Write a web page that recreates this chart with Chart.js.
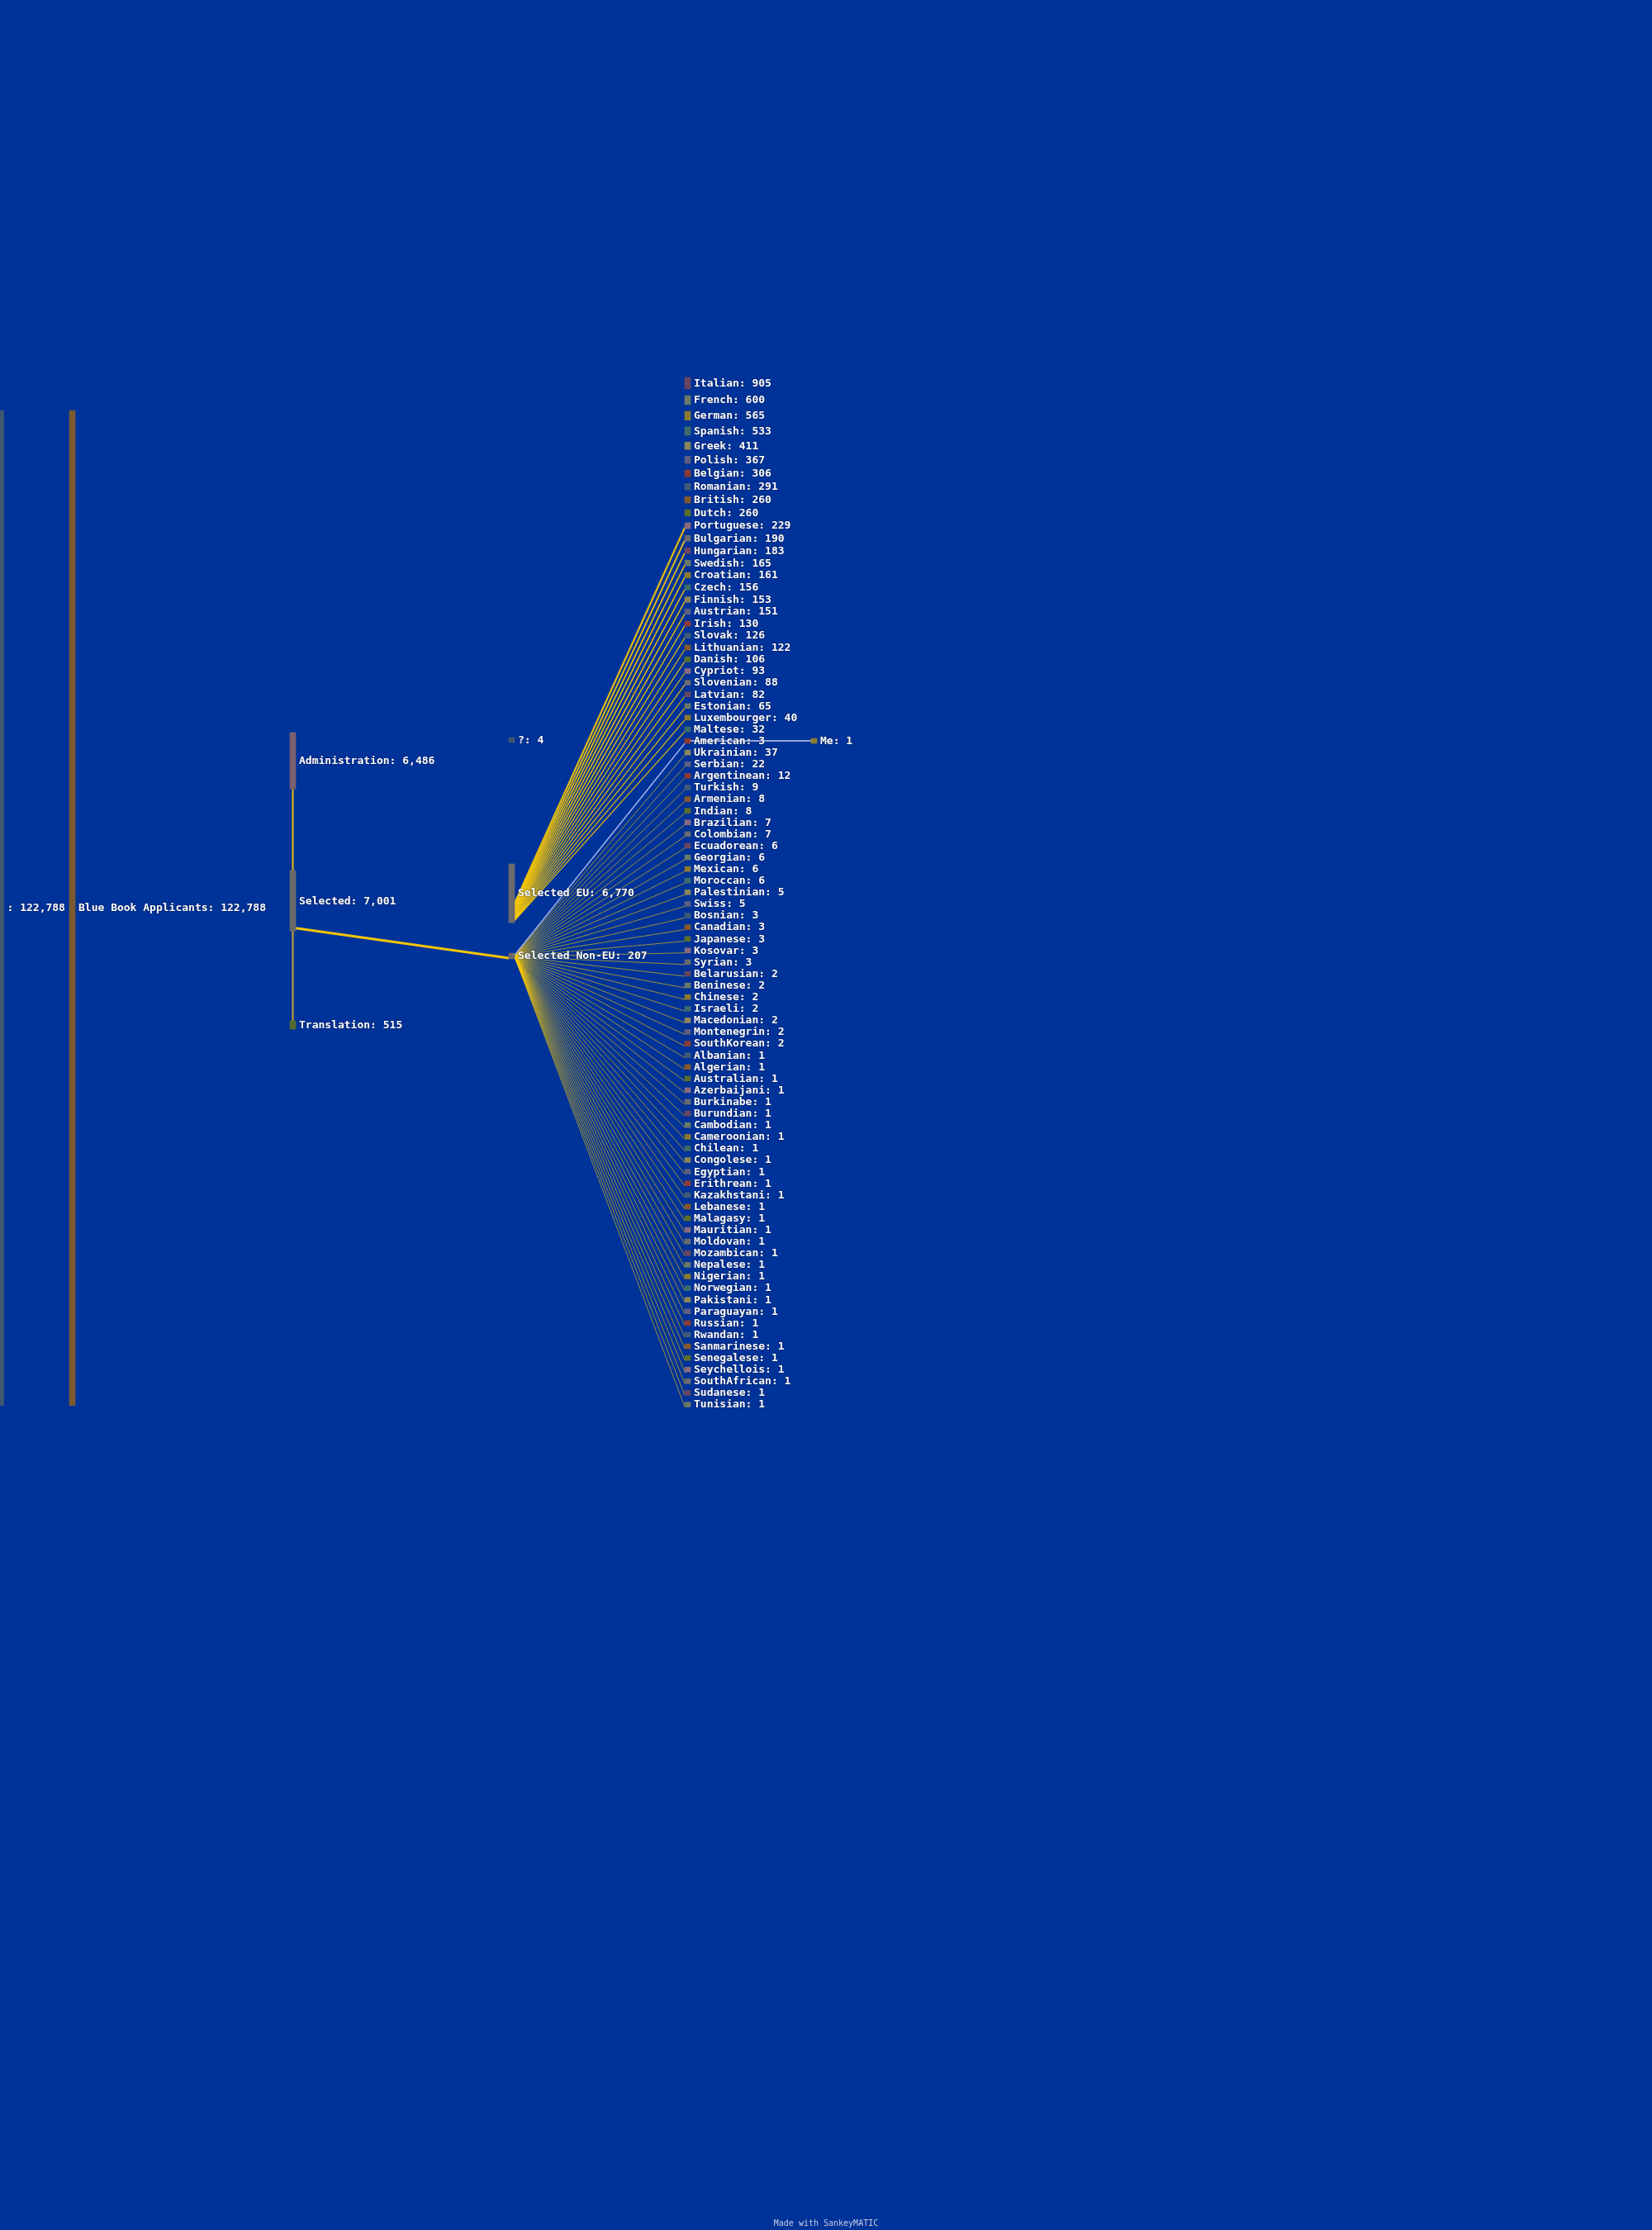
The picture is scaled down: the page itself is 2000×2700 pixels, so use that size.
<!DOCTYPE html>
<html>
<head>
<meta charset="utf-8">
<script src="https://cdn.jsdelivr.net/npm/chart.js@4.4.1/dist/chart.umd.min.js"></script>
<style>
html,body{margin:0;padding:0;background:#003399;}
canvas{display:block;}
</style>
</head>
<body>
<canvas id="c" width="2000" height="2700"></canvas>
<script>
// ---------------- DATA ----------------
const stageNames  = ["", "Blue Book Applicants", "Administration", "Selected", "Translation", "?", "Selected EU", "Selected Non-EU", "Me"];
const stageValues = [122788, 122788, 6486, 7001, 515, 4, 6770, 207, 1];

const euNames = ["Italian","French","German","Spanish","Greek","Polish","Belgian","Romanian","British","Dutch",
  "Portuguese","Bulgarian","Hungarian","Swedish","Croatian","Czech","Finnish","Austrian","Irish","Slovak",
  "Lithuanian","Danish","Cypriot","Slovenian","Latvian","Estonian","Luxembourger","Maltese"];
const euValues = [905,600,565,533,411,367,306,291,260,260,229,190,183,165,161,156,153,151,130,126,122,106,93,88,82,65,40,32];

const nonEuNames = ["American","Ukrainian","Serbian","Argentinean","Turkish","Armenian","Indian","Brazilian","Colombian",
  "Ecuadorean","Georgian","Mexican","Moroccan","Palestinian","Swiss","Bosnian","Canadian","Japanese","Kosovar","Syrian",
  "Belarusian","Beninese","Chinese","Israeli","Macedonian","Montenegrin","SouthKorean","Albanian","Algerian","Australian",
  "Azerbaijani","Burkinabe","Burundian","Cambodian","Cameroonian","Chilean","Congolese","Egyptian","Erithrean","Kazakhstani",
  "Lebanese","Malagasy","Mauritian","Moldovan","Mozambican","Nepalese","Nigerian","Norwegian","Pakistani","Paraguayan",
  "Russian","Rwandan","Sanmarinese","Senegalese","Seychellois","SouthAfrican","Sudanese","Tunisian"];
const nonEuValues = [3,37,22,12,9,8,8,7,7,6,6,6,6,5,5,3,3,3,3,3,2,2,2,2,2,2,2,
  1,1,1,1,1,1,1,1,1,1,1,1,1,1,1,1,1,1,1,1,1,1,1,1,1,1,1,1,1,1,1];

const stageFlowFrom   = ["Administration","Translation","Selected","Selected","American"];
const stageFlowTo     = ["Selected","Selected","Selected EU","Selected Non-EU","Me"];
const stageFlowValues = [6486, 515, 6770, 207, 1];

// ---------------- LAYOUT / STYLE ----------------
const LAYOUT = {
  colLeft: [-2.5, 84, 351, 616, 829, 982],
  nodeWidth: 7,
  k: 0.00977,          // layout units per value
  coreMin: 0.9,        // minimum core height
  border: 2.5,         // node outline drawn around the core
  column: {"":0, "Blue Book Applicants":1, "Administration":2, "Selected":2, "Translation":2,
           "?":3, "Selected EU":3, "Selected Non-EU":3, "Me":5},
  fixedTop: {"":497, "Blue Book Applicants":497, "Administration":887, "Selected":1054,
             "Translation":1236, "?":893, "Selected EU":1046, "Selected Non-EU":1154},
  alignTo: {"Me":"American"},
  countryTop: 457, countryBottom: 1703.5
};
const PALETTE = ["#6b4560","#6a7a68","#8c7a2e","#3c6b6c","#8a865a","#5f5e80",
                 "#8c3c34","#3f5a78","#86582c","#5a6e2e","#8a6a80","#6b6b6f"];
const STAGE_COLORS = {"":"#3f5a70", "Blue Book Applicants":"#7b5a30", "Administration":"#7a6070",
  "Selected":"#6a6a6c", "Translation":"#556b30", "?":"#3f5572", "Selected EU":"#6a6a6c",
  "Selected Non-EU":"#6a6a6c"};
const HIDDEN_LINKS = ["Selected>Selected EU","Selected EU>Italian","Selected EU>French","Selected EU>German",
  "Selected EU>Spanish","Selected EU>Greek","Selected EU>Polish","Selected EU>Belgian","Selected EU>Romanian",
  "Selected EU>British","Selected EU>Dutch"];
function linkStyle(src, dst) {
  if (src === "Selected EU") return {color:"rgba(255,204,0,0.88)", minW:1.2};
  if (src === "Selected Non-EU" && dst === "American") return {color:"#a4b6ee", minW:1.4};
  if (src === "Selected Non-EU") return {color:"rgba(255,204,0,0.6)", minW:1};
  if (src === "Selected") return {color:"rgba(255,204,0,0.95)", minW:3.2};
  if (src === "American") return {color:"rgba(200,205,235,0.75)", minW:2};
  if (src === "Administration") return {color:"#e8bc08", minW:2, fixedW:true};
  if (src === "Translation") return {color:"#c8a828", minW:2, fixedW:true};
  return {color:"rgba(255,204,0,0.6)", minW:1};
}

// ---------------- BUILD NODES ----------------
const nodes = {};
stageNames.forEach((n,i) => nodes[n] = {name:n, value:stageValues[i], col:LAYOUT.column[n]});
const countryNames = euNames.concat(nonEuNames);
const countryValues = euValues.concat(nonEuValues);
countryNames.forEach((n,i) => nodes[n] = {name:n, value:countryValues[i], col:4});

// colour sequence (input order of the original diagram)
const colorSeq = countryNames.filter(n => n !== "American");
colorSeq.splice(colorSeq.indexOf("Swiss") + 1, 0, "American");
colorSeq.push("Me");

const B = LAYOUT.border;
Object.values(nodes).forEach(nd => {
  nd.core = Math.max(LAYOUT.coreMin, nd.value * LAYOUT.k);
  nd.h = nd.core + 2*B;                       // drawn height
  if (LAYOUT.fixedTop[nd.name] !== undefined) nd.top = LAYOUT.fixedTop[nd.name];
});
// country column: cores stacked with equal padding
(function(){
  const top = LAYOUT.countryTop + B, bottom = LAYOUT.countryBottom - B;
  let sumCore = 0;
  countryNames.forEach(n => sumCore += nodes[n].core);
  const gap = (bottom - top - sumCore) / (countryNames.length - 1);
  let y = top;
  countryNames.forEach(n => { nodes[n].top = y - B; y += nodes[n].core + gap; });
})();
Object.keys(LAYOUT.alignTo).forEach(n => {
  const ref = nodes[LAYOUT.alignTo[n]];
  nodes[n].top = ref.top + ref.h/2 - nodes[n].h/2;
});
Object.values(nodes).forEach(nd => {
  nd.color = STAGE_COLORS[nd.name] !== undefined ? STAGE_COLORS[nd.name] : PALETTE[colorSeq.indexOf(nd.name) % 12];
  nd.left = LAYOUT.colLeft[nd.col];
});

// ---------------- BUILD LINKS ----------------
const links = [];
stageFlowFrom.forEach((s,i) => links.push({src:s, dst:stageFlowTo[i], value:stageFlowValues[i]}));
euNames.forEach((n,i) => links.push({src:"Selected EU", dst:n, value:euValues[i]}));
nonEuNames.forEach((n,i) => links.push({src:"Selected Non-EU", dst:n, value:nonEuValues[i]}));

const outTot = {}, inTot = {}, outOff = {}, inOff = {};
links.forEach(l => {
  l.w = l.value * LAYOUT.k;
  outTot[l.src] = (outTot[l.src] || 0) + l.w;
  inTot[l.dst] = (inTot[l.dst] || 0) + l.w;
});
links.forEach(l => {
  const s = nodes[l.src], d = nodes[l.dst];
  const so = outOff[l.src] || 0, io = inOff[l.dst] || 0;
  outOff[l.src] = so + l.w; inOff[l.dst] = io + l.w;
  if (s.col === d.col) {
    const xc = s.left + LAYOUT.nodeWidth/2;
    if (d.top > s.top) { l.p = [{x:xc, y:s.top + s.h}, {x:xc, y:d.top}]; }
    else { l.p = [{x:xc, y:s.top}, {x:xc, y:d.top + d.h}]; }
  } else if (LAYOUT.alignTo[l.dst] === l.src) {
    const yc = s.top + s.h/2;
    l.p = [{x:s.left + LAYOUT.nodeWidth, y:yc}, {x:d.left, y:yc}];
  } else {
    const ys = s.top + s.h/2 - outTot[l.src]/2 + so + l.w/2;
    const yt = d.top + d.h - inTot[l.dst] + io + l.w/2;
    l.p = [{x:s.left + LAYOUT.nodeWidth, y:ys}, {x:d.left, y:yt}];
  }
});

// ---------------- DATASETS ----------------
const nodeList = Object.values(nodes);
const datasets = [{
  type:'bar',
  order:0,
  data: nodeList.map(nd => ({x: nd.left + LAYOUT.nodeWidth/2, y:[nd.top, nd.top + nd.h]})),
  backgroundColor: nodeList.map(nd => nd.color),
  borderWidth:0,
  barThickness: LAYOUT.nodeWidth,
  grouped:false
}];
links.forEach(l => {
  if (HIDDEN_LINKS.includes(l.src + ">" + l.dst)) return;
  const st = linkStyle(l.src, l.dst);
  datasets.push({
    type:'line',
    order:1,
    data: l.p,
    borderWidth: st.fixedW ? st.minW : Math.max(st.minW, l.w),
    borderColor: st.color,
    pointRadius:0,
    fill:false,
    tension:0,
    borderCapStyle:'butt'
  });
});

// ---------------- PLUGINS ----------------
const bgPlugin = {
  id:'bg',
  beforeDraw(chart){
    const c = chart.ctx;
    c.save(); c.fillStyle = '#003399'; c.fillRect(0,0,chart.width,chart.height); c.restore();
  }
};
const labelPlugin = {
  id:'labels',
  afterDatasetsDraw(chart){
    const c = chart.ctx, xs = chart.scales.x, ys = chart.scales.y;
    c.save();
    c.font = 'bold 13px "DejaVu Sans Mono", "Liberation Mono", monospace';
    c.textBaseline = 'middle';
    c.textAlign = 'left';
    c.shadowColor = 'rgba(0,10,50,0.9)';
    c.shadowBlur = 2;
    nodeList.forEach(nd => {
      const x = xs.getPixelForValue(nd.left + LAYOUT.nodeWidth) + 4;
      const y = ys.getPixelForValue(nd.top + nd.h/2);
      c.fillStyle = '#ffffff';
      c.fillText(nd.name + ': ' + nd.value.toLocaleString('en-US'), x, y + 0.5);
    });
    c.shadowBlur = 0;
    c.font = '10px "DejaVu Sans Mono", "Liberation Mono", monospace';
    c.fillStyle = '#c3cbe6';
    c.textAlign = 'center';
    c.fillText('Made with SankeyMATIC', chart.width/2, chart.height - 8);
    c.restore();
  }
};

new Chart(document.getElementById('c'), {
  type:'bar',
  data:{datasets},
  options:{
    responsive:false,
    animation:false,
    devicePixelRatio:1,
    layout:{padding:0},
    events:[],
    plugins:{legend:{display:false}, tooltip:{enabled:false}},
    scales:{
      x:{type:'linear', min:0, max:2000, display:false, offset:false, grid:{display:false}},
      y:{type:'linear', min:0, max:2700, reverse:true, display:false, grid:{display:false}}
    }
  },
  plugins:[bgPlugin, labelPlugin]
});
</script>
</body>
</html>
